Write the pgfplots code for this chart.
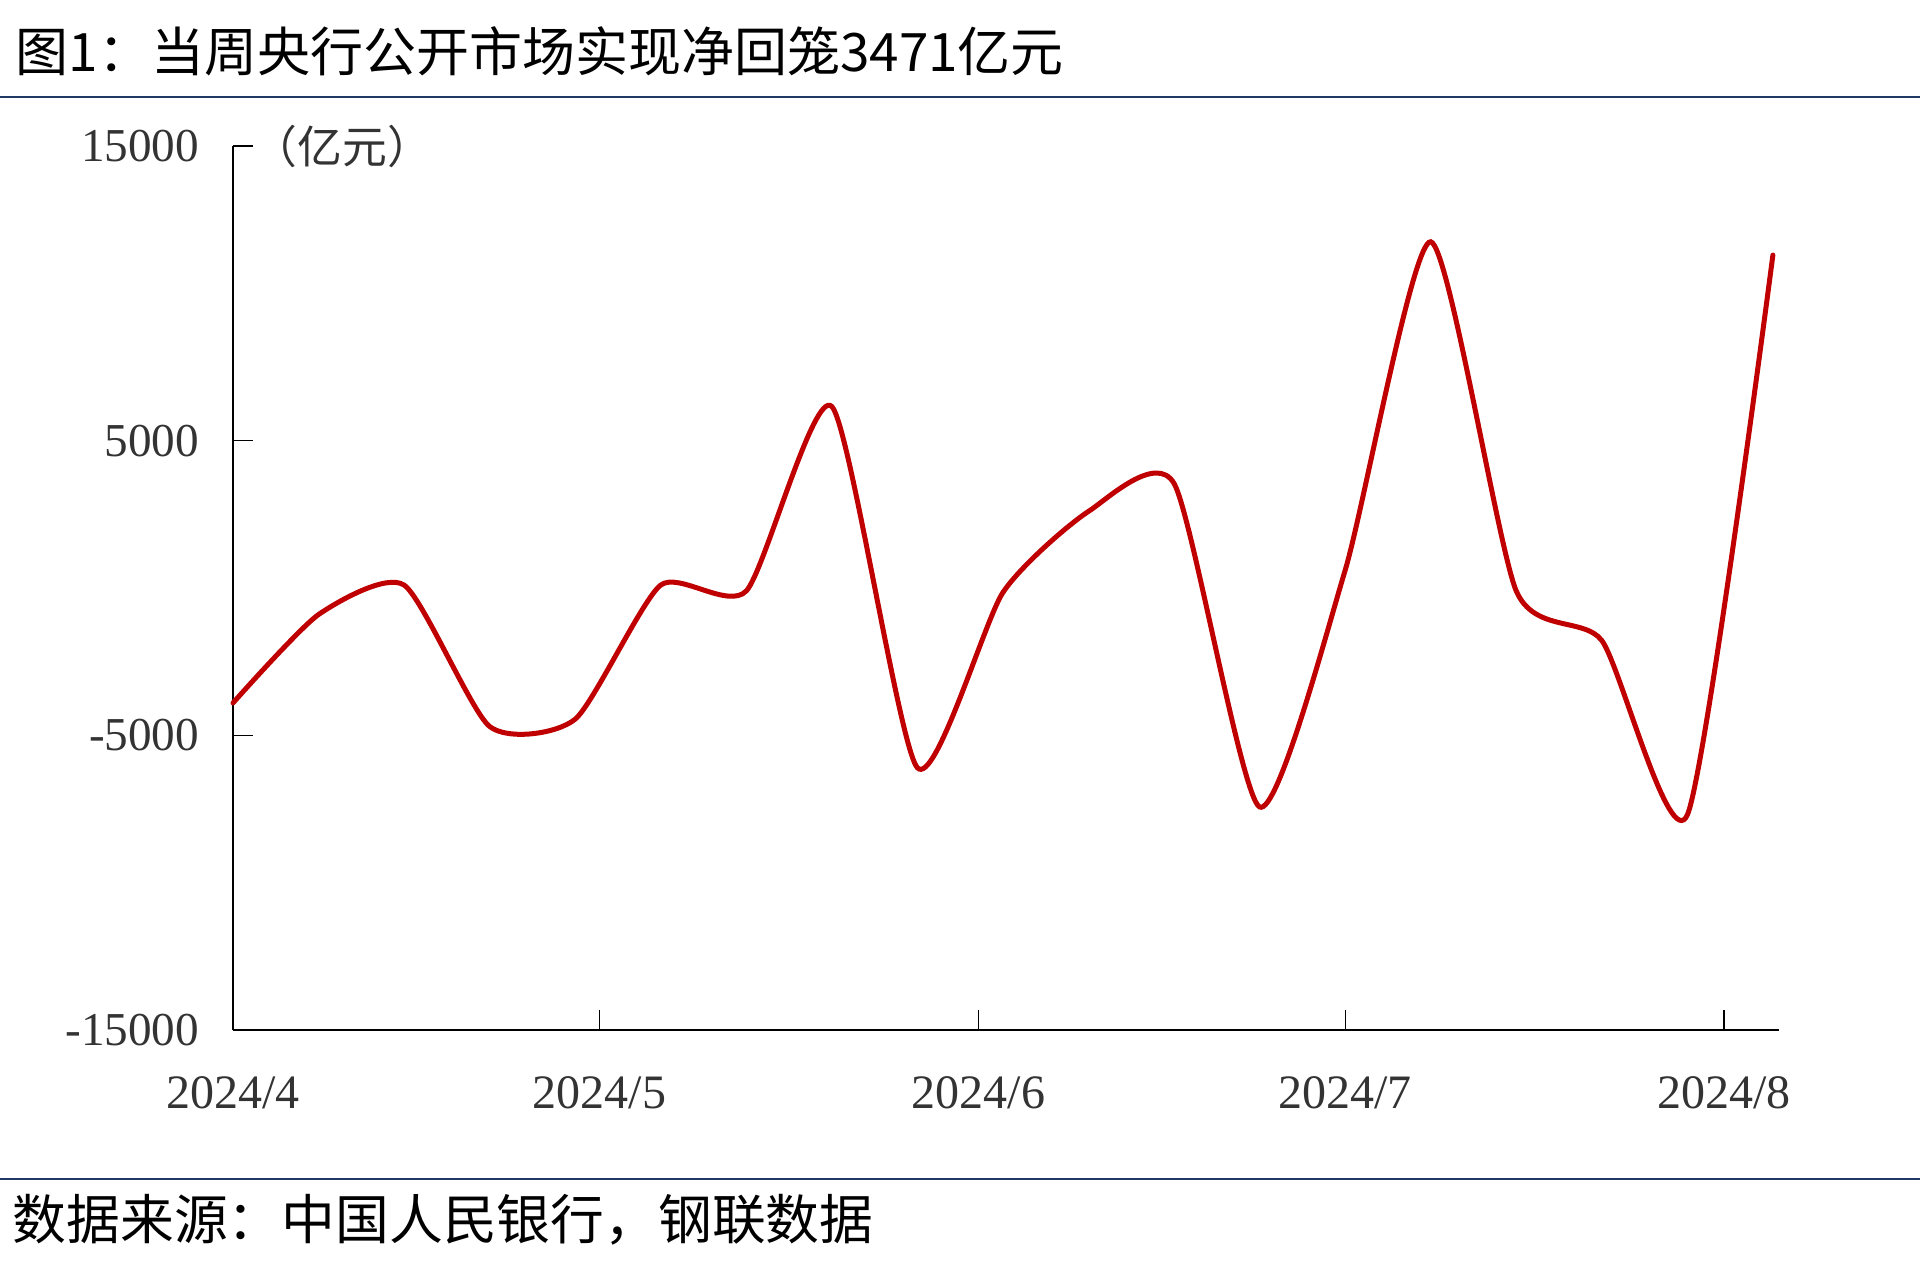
\documentclass[border=0pt]{standalone}
\usepackage{pgfplots}
\pgfplotsset{compat=1.18}
\usepackage{fontspec}
\setmainfont{Liberation Serif}
\newfontfamily\cjk{Noto Sans CJK SC}
\definecolor{lineRed}{RGB}{192,0,0}
\definecolor{ruleBlue}{RGB}{31,56,100}

% weekly net injection, x = days since 2024/4/1
\pgfplotstableread{
day  val
0    -3900
7    -900
14   100
21   -4700
28   -4450
35   100
42   -100
49   6160
56   -6100
63   -150
70   2600
77   3550
84   -7430
91   600
98   11750
105  -100
112  -1780
119  -7700
126  11300
}\netdata

\begin{document}
\begin{tikzpicture}
  % canvas: 1920 x 1279 px at 0.25pt per px
  \path[use as bounding box] (0,0) rectangle (480pt,319.75pt);

  \node[anchor=west, inner sep=0pt, font=\cjk\fontsize{13.25}{14}\selectfont]
    at (3.75pt,307pt) {图1：当周央行公开市场实现净回笼3471亿元};
  \draw[ruleBlue, line width=0.4pt] (0,295.5pt) -- (480pt,295.5pt);

  \begin{axis}[
      at={(58.25pt,62.25pt)}, anchor=south west,
      scale only axis,
      width=386.5pt, height=221pt,
      xmin=0, xmax=126.5,
      ymin=-15000, ymax=15000,
      scaled y ticks=false,
      axis x line*=bottom,
      axis y line*=left,
      axis line style={black, line width=0.4pt},
      tick align=inside,
      major tick length=5pt,
      tick style={black, line width=0.3pt},
      xtick={0,30,61,91,122},
      xticklabels={2024/4,2024/5,2024/6,2024/7,2024/8},
      ytick={-15000,-5000,5000,15000},
      yticklabels={-15000,-5000,5000,15000},
      xticklabel style={font=\fontsize{12}{12}\selectfont, inner sep=0pt,
        anchor=base, yshift=-19.5pt, text=black!80},
      yticklabel style={font=\fontsize{11.8}{12}\selectfont, inner sep=0pt,
        anchor=east, xshift=-8.25pt, text=black!80},
      clip=false,
    ]
    \addplot[lineRed, line width=1.25pt, smooth, tension=0.38, line cap=round]
      table[x=day, y=val] {\netdata};
    \node[anchor=west, inner sep=0pt, font=\cjk\fontsize{11.2}{12}\selectfont, text=black!80]
      at (rel axis cs:0,1) [xshift=4.75pt] {（亿元）};
  \end{axis}

  \draw[ruleBlue, line width=0.4pt] (0,25pt) -- (480pt,25pt);
  \node[anchor=west, inner sep=0pt, font=\cjk\fontsize{13.45}{14}\selectfont]
    at (3pt,14.75pt) {数据来源：中国人民银行，钢联数据};
\end{tikzpicture}
\end{document}
